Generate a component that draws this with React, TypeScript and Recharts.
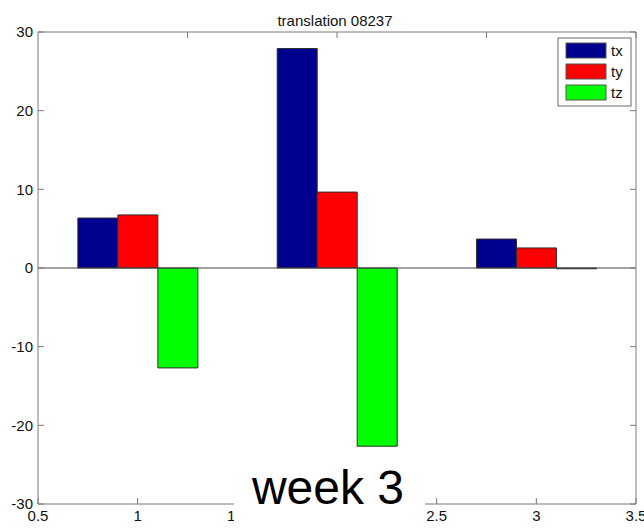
import React from 'react';
import { BarChart, Bar, XAxis, YAxis, ReferenceLine } from 'recharts';

const positions = [1, 2, 3];
const txValues = [6.35, 27.9, 3.68];
const tyValues = [6.75, 9.65, 2.55];
const tzValues = [-12.7, -22.65, -0.1];
const seriesNames = ['tx', 'ty', 'tz'];
const seriesColors = ['#00008F', '#FF0000', '#00FF00'];
const xTicks = [0.5, 1, 1.5, 2, 2.5, 3, 3.5];
const yTicks = [-30, -20, -10, 0, 10, 20, 30];
const titleText = 'translation 08237';
const overlayText = 'week 3';

const data = positions.map((x, i) => ({
  x,
  tx: txValues[i],
  ty: tyValues[i],
  tz: tzValues[i],
}));

const FONT = '"Liberation Sans", Arial, Helvetica, sans-serif';
const AXIS = '#7a7a7a';
const TICKLEN = 6;

const LeftTick = (props: any) => {
  const { x, y, payload } = props;
  return (
    <g>
      <line x1={x} x2={x + TICKLEN} y1={y} y2={y} stroke={AXIS} />
      <text x={x - 5} y={y} dy="0.355em" textAnchor="end" fontSize={15} fill="#111" fontFamily={FONT}>
        {String(payload.value)}
      </text>
    </g>
  );
};

const RightTick = (props: any) => {
  const { x, y } = props;
  return <line x1={x - TICKLEN} x2={x} y1={y} y2={y} stroke={AXIS} />;
};

const BottomTick = (props: any) => {
  const { x, y, payload } = props;
  return (
    <g>
      <line x1={x} x2={x} y1={y} y2={y - TICKLEN} stroke={AXIS} />
      <text x={x} y={y + 6} dy="0.71em" textAnchor="middle" fontSize={15} fill="#111" fontFamily={FONT}>
        {String(payload.value)}
      </text>
    </g>
  );
};

const TopTick = (props: any) => {
  const { x, y } = props;
  return <line x1={x} x2={x} y1={y} y2={y + TICKLEN} stroke={AXIS} />;
};

export default function App() {
  return (
    <div style={{ position: 'absolute', left: 0, top: 0, width: 644, height: 528, background: '#fff', fontFamily: FONT }}>
      <BarChart
        width={644}
        height={528}
        data={data}
        margin={{ top: 0, right: 0, bottom: 0, left: 0 }}
        barGap={0}
        barCategoryGap="20%"
      >
        <XAxis
          dataKey="x"
          type="number"
          domain={[0.5, 3.5]}
          ticks={xTicks}
          height={24}
          tickSize={0}
          tickMargin={0}
          tickLine={false}
          axisLine={{ stroke: AXIS }}
          tick={<BottomTick />}
          interval={0}
          allowDataOverflow
        />
        <XAxis
          xAxisId="top"
          orientation="top"
          type="number"
          domain={[0.5, 3.5]}
          ticks={xTicks}
          height={32}
          tickSize={0}
          tickMargin={0}
          tickLine={false}
          axisLine={{ stroke: AXIS }}
          tick={<TopTick />}
          interval={0}
          allowDataOverflow
        />
        <YAxis
          type="number"
          domain={[-30, 30]}
          ticks={yTicks}
          width={38}
          tickSize={0}
          tickMargin={0}
          tickLine={false}
          axisLine={{ stroke: AXIS }}
          tick={<LeftTick />}
          interval={0}
          allowDataOverflow
        />
        <YAxis
          yAxisId="right"
          orientation="right"
          type="number"
          domain={[-30, 30]}
          ticks={yTicks}
          width={8}
          tickSize={0}
          tickMargin={0}
          tickLine={false}
          axisLine={{ stroke: AXIS }}
          tick={<RightTick />}
          interval={0}
          allowDataOverflow
        />
        {seriesNames.map((name, i) => (
          <Bar
            key={name}
            dataKey={name}
            name={name}
            fill={seriesColors[i]}
            stroke="#2e2e2e"
            strokeWidth={1}
            isAnimationActive={false}
          />
        ))}
        <ReferenceLine y={0} stroke="#444" strokeWidth={1} ifOverflow="extendDomain" />
      </BarChart>
      <svg
        width={644}
        height={528}
        style={{ position: 'absolute', left: 0, top: 0, pointerEvents: 'none' }}
      >
        <text x={335} y={26} textAnchor="middle" fontSize={15} fill="#111" fontFamily={FONT}>
          {titleText}
        </text>
        <g>
          <rect x={558} y={38} width={73} height={68} fill="#fff" stroke="#6a6a6a" strokeWidth={1} />
          {seriesNames.map((name, i) => (
            <g key={name}>
              <rect x={566} y={43 + i * 21} width={40} height={15} fill={seriesColors[i]} stroke="#555" strokeWidth={1} />
              <text x={611} y={56 + i * 21} fontSize={15} fill="#111" fontFamily={FONT}>
                {name}
              </text>
            </g>
          ))}
        </g>
        <rect x={234} y={462} width={191} height={66} fill="#fff" />
        <text x={328} y={504} textAnchor="middle" fontSize={48} fill="#000" fontFamily={FONT}>
          {overlayText}
        </text>
      </svg>
    </div>
  );
}
